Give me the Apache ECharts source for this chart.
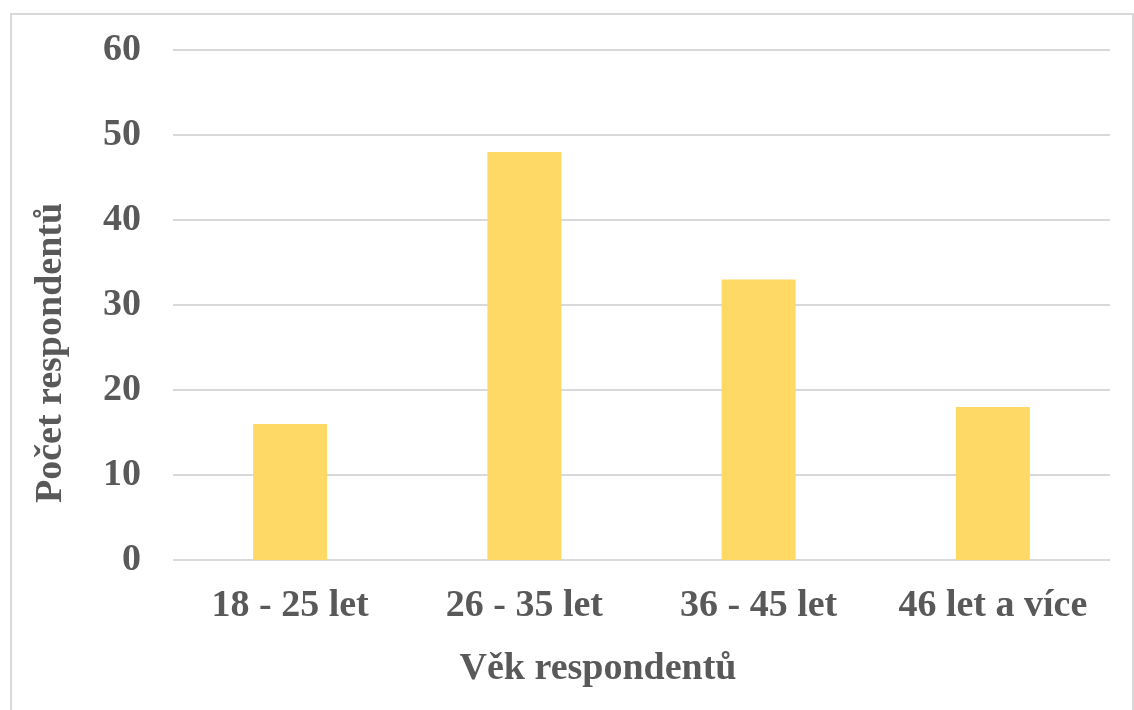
<!DOCTYPE html>
<html>
<head>
<meta charset="utf-8">
<script src="https://cdn.jsdelivr.net/npm/echarts@6/dist/echarts.min.js"></script>
<style>
  html, body { margin: 0; padding: 0; background: #fff; }
  #chart { width: 1134px; height: 710px; }
</style>
</head>
<body>
<div id="chart"></div>
<script>
// Age groups of respondents and their counts
const categories = ['18 - 25 let', '26 - 35 let', '36 - 45 let', '46 let a více'];
const counts = [16, 48, 33, 18];
const yTicks = { min: 0, max: 60, interval: 10 };
const xTitle = 'Věk respondentů';
const yTitle = 'Počet respondentů';

const FONT = '"Liberation Serif", "Times New Roman", serif';
const TEXT = '#595959';

const chart = echarts.init(document.getElementById('chart'), null, { renderer: 'canvas' });
chart.setOption({
  animation: false,
  backgroundColor: '#ffffff',
  grid: { left: 173, right: 24, top: 50, bottom: 150, containLabel: false },
  xAxis: {
    type: 'category',
    data: categories,
    axisLine: { show: false },
    axisTick: { show: false },
    axisLabel: {
      interval: 0,
      hideOverlap: false,
      margin: 27,
      color: TEXT,
      fontFamily: FONT,
      fontWeight: 'bold',
      fontSize: 38
    }
  },
  yAxis: {
    type: 'value',
    min: yTicks.min,
    max: yTicks.max,
    interval: yTicks.interval,
    axisLine: { show: false },
    axisTick: { show: false },
    splitLine: { lineStyle: { color: '#d9d9d9', width: 2 } },
    axisLabel: {
      margin: 32,
      color: TEXT,
      fontFamily: FONT,
      fontWeight: 'bold',
      fontSize: 38
    }
  },
  series: [{
    type: 'bar',
    data: counts,
    barWidth: '31.6%',
    itemStyle: { color: '#FFD966' }
  }],
  graphic: [
    {
      type: 'rect',
      shape: { x: 11, y: 14, width: 1122, height: 720 },
      style: { fill: 'none', stroke: '#d9d9d9', lineWidth: 2 },
      silent: true,
      z: -1
    },
    {
      type: 'text',
      x: 598,
      y: 669,
      style: {
        text: xTitle,
        fill: TEXT,
        font: 'bold 38px ' + FONT,
        textAlign: 'center',
        textVerticalAlign: 'middle'
      }
    },
    {
      type: 'text',
      x: 51,
      y: 353,
      rotation: Math.PI / 2,
      style: {
        text: yTitle,
        fill: TEXT,
        font: 'bold 38px ' + FONT,
        textAlign: 'center',
        textVerticalAlign: 'middle'
      }
    }
  ]
});
</script>
</body>
</html>
